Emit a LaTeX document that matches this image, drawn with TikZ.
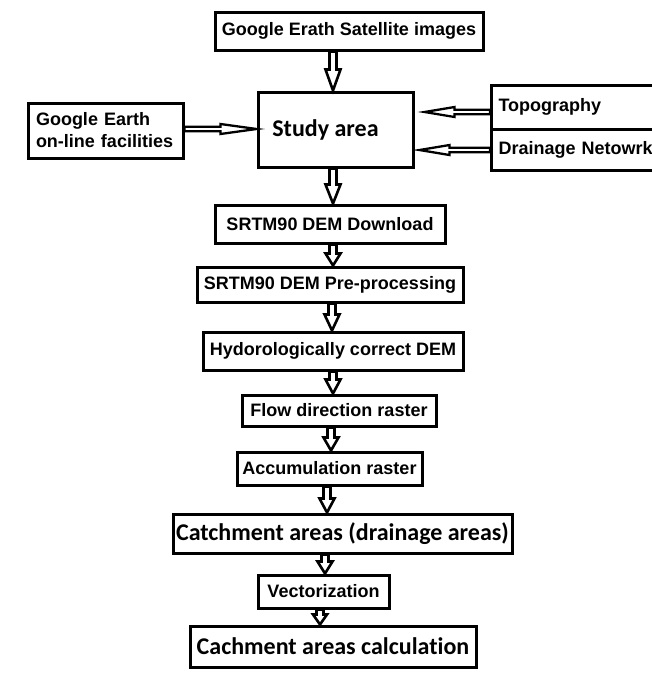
\documentclass[tikz,border=0pt]{standalone}
\usepackage{fontspec}
\setmainfont{Liberation Sans}
\newfontfamily\calib{Carlito}[Ligatures=NoCommon]
\usetikzlibrary{calc}
\tikzset{
  box/.style={draw=black, line width=3pt, fill=white, rectangle, inner sep=0pt,
    font=\fontsize{18}{22}\selectfont\bfseries},
  cbox/.style={box, font=\calib\fontsize{24}{28}\selectfont\bfseries},
  harrowline/.style={draw=black, fill=white, line width=2.6pt},
  hharrowline/.style={draw=black, fill=white, line width=2.3pt},
}
% hollow block arrow: #1 style, #2 shaft half-width, #3 head half-width, #4 head length, #5 start, #6 tip
\newcommand\harrow[6]{%
  \path (#5) coordinate (hS) (#6) coordinate (hT);
  \path ($(hT)!#4pt!(hS)$) coordinate (hH);
  \draw[#1] ($(hS)!#2pt!90:(hT)$) -- ($(hH)!#2pt!-90:(hS)$) -- ($(hH)!#3pt!-90:(hS)$)
    -- (hT) -- ($(hH)!#3pt!90:(hS)$) -- ($(hH)!#2pt!90:(hS)$) -- ($(hS)!#2pt!-90:(hT)$) -- cycle;
}
\begin{document}
\begin{tikzpicture}[x=1pt,y=-1pt]
\useasboundingbox (0,0) rectangle (652,680);
\clip (0,0) rectangle (652,680);
\fill[white] (0,0) rectangle (652,680);

\node[box, minimum width=268, minimum height=38] (b1) at (349,31) {Google Erath Satellite images};
\node[cbox, minimum width=155, minimum height=75] (st) at (335.5,129.5) {\hspace*{-20pt}Study area};
\node[box, minimum width=155, minimum height=55, text width=139, align=left] (ge) at (105.5,130.5) {Google Earth\\on-line facilities};
\node[box, anchor=west, minimum width=210, minimum height=44, text width=196, align=left] (tp) at (490,107) {Topography};
\node[box, anchor=west, minimum width=210, minimum height=41, text width=196, align=left] (dn) at (490,149.5) {Drainage Netowrk};
\node[box, minimum width=230, minimum height=38] (dl) at (330,224) {SRTM90 DEM Download};
\node[box, minimum width=266, minimum height=35] (pp) at (330,284.5) {SRTM90 DEM Pre-processing};
\node[box, minimum width=260, minimum height=38] (hy) at (333,351) {Hydorologically correct DEM};
\node[box, minimum width=194, minimum height=31] (fl) at (339,410.5) {Flow direction raster};
\node[box, minimum width=185, minimum height=33] (ac) at (329.5,468.5) {Accumulation raster};
\node[cbox, minimum width=339, minimum height=39] (ca) at (342.5,533.5) {Catchment areas (drainage areas)};
\node[box, minimum width=131, minimum height=33] (ve) at (323.5,591.5) {Vectorization};
\node[cbox, minimum width=286, minimum height=41] (cc) at (333,646.5) {Cachment areas calculation};

% vertical arrows
\harrow{harrowline}{3.5}{7.5}{21}{$(b1.south)+(-16,0)$}{$(st.north)+(-2.5,0)$}
\harrow{harrowline}{3.5}{7.5}{19}{$(st.south)+(-2.5,0)$}{$(dl.north)+(3,0)$}
\harrow{harrowline}{3.5}{7.5}{12}{$(dl.south)+(3,0)$}{$(pp.north)+(3,0)$}
\harrow{harrowline}{3.5}{7.5}{16}{$(pp.south)+(2,0)$}{$(hy.north)+(-1,0)$}
\harrow{harrowline}{3.5}{7.5}{14}{$(hy.south)+(0,0)$}{$(fl.north)+(-6,0)$}
\harrow{harrowline}{3.5}{7.5}{13}{$(fl.south)+(-8,0)$}{$(ac.north)+(1.5,0)$}
\harrow{harrowline}{3.5}{7.5}{14}{$(ac.south)+(-2.5,0)$}{$(ca.north)+(-15.5,0)$}
\harrow{harrowline}{3.5}{7.5}{12}{$(ca.south)+(-17.5,0)$}{$(ve.north)+(1.5,0)$}
\harrow{harrowline}{3.5}{7}{10}{$(ve.south)+(-3.5,0)$}{$(cc.north)+(-13,0)$}

% horizontal arrows
\harrow{hharrowline}{2.3}{5}{36}{$(ge.east)+(0,-1.5)$}{$(st.west |- ge.east)+(0,-1.5)$}
\harrow{hharrowline}{2.3}{5}{30}{$(tp.west)+(0,5)$}{$(st.east |- tp.west)+(10,5)$}
\harrow{hharrowline}{2.3}{5}{30}{$(dn.west)+(0,0.5)$}{$(st.east |- dn.west)+(5,0.5)$}
\end{tikzpicture}
\end{document}
